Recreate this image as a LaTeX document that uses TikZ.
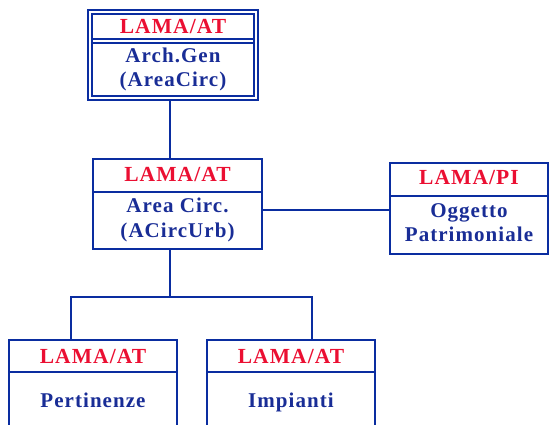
\documentclass[tikz,border=0pt]{standalone}
\usepackage{fontspec}
\setmainfont{Liberation Serif}
\newfontfamily\redfont[LetterSpace=5]{Liberation Serif}
\newfontfamily\bluefont[LetterSpace=5]{Liberation Serif}
\usetikzlibrary{calc}
\definecolor{hdred}{RGB}{235,15,50}
\definecolor{txtblue}{RGB}{25,45,150}
\definecolor{lnblue}{RGB}{10,45,160}
\tikzset{
  box/.style={draw=lnblue, line width=2pt, rectangle, inner sep=0pt, outer sep=0pt},
  dbox/.style={draw=lnblue, double=white, line width=1.5pt, double distance=2.5pt, rectangle, inner sep=0pt, outer sep=0pt},
  ln/.style={draw=lnblue, line width=2pt},
  hd/.style={anchor=base, inner sep=0pt, text=hdred, font=\redfont\bfseries\fontsize{21.5}{24}\selectfont},
  tx/.style={anchor=base, inner sep=0pt, text=txtblue, font=\bluefont\bfseries\fontsize{21}{24}\selectfont}
}
\begin{document}
\begin{tikzpicture}[x=1pt,y=-1pt]
\useasboundingbox (0,0) rectangle (550,425);
\clip (0,0) rectangle (550,425);
% boxes
\node[dbox, minimum width=166pt, minimum height=86pt] (arch) at (173,55) {};
\draw[ln, line width=1.5pt] ($(arch.north west)+(2,27)$) -- ($(arch.north east)+(-2,27)$);
\draw[ln, line width=1.5pt] ($(arch.north west)+(2,31)$) -- ($(arch.north east)+(-2,31)$);
\node[box, minimum width=169pt, minimum height=90pt] (mid) at (177.5,204) {};
\draw[ln] ($(mid.north west)+(0,33)$) -- ($(mid.north east)+(0,33)$);
\node[box, minimum width=158pt, minimum height=91pt] (pi) at (469,208.5) {};
\draw[ln] ($(pi.north west)+(0,33)$) -- ($(pi.north east)+(0,33)$);
\node[box, minimum width=168pt, minimum height=100pt] (pert) at (93,390) {};
\draw[ln] ($(pert.north west)+(0,32)$) -- ($(pert.north east)+(0,32)$);
\node[box, minimum width=168pt, minimum height=100pt] (impi) at (291,390) {};
\draw[ln] ($(impi.north west)+(0,32)$) -- ($(impi.north east)+(0,32)$);
% texts
\node[hd] (t1) at (173,34) {LAMA/AT};
\node[tx] (t2) at (173,63) {Arch.Gen};
\node[tx] (t3) at (173,87) {(AreaCirc)};
\node[hd] (t4) at (177.5,182) {LAMA/AT};
\node[tx] (t5) at (177.5,213) {Area Circ.};
\node[tx] (t6) at (177.5,238) {(ACircUrb)};
\node[hd] (t7) at (469,185) {LAMA/PI};
\node[tx] (t8) at (469,218) {Oggetto};
\node[tx] (t9) at (469,242) {Patrimoniale};
\node[hd] (t10) at (93,363) {LAMA/AT};
\node[tx] (t11) at (93,407) {Pertinenze};
\node[hd] (t12) at (291,363) {LAMA/AT};
\node[tx] (t13) at (291,407) {Impianti};
% connectors
\coordinate (trunk) at (170,297);
\coordinate (jl) at (71,297);
\coordinate (jr) at (312,297);
\coordinate (side) at (300,210);
\draw[ln] ($(arch.south -| trunk)+(0,2)$) -- (mid.north -| trunk);
\draw[ln] (mid.south -| trunk) -- (trunk);
\draw[ln] (pert.north -| jl) -- (jl) -- (jr) -- (impi.north -| jr);
\draw[ln] (mid.east |- side) -- (pi.west |- side);
\end{tikzpicture}
\end{document}
